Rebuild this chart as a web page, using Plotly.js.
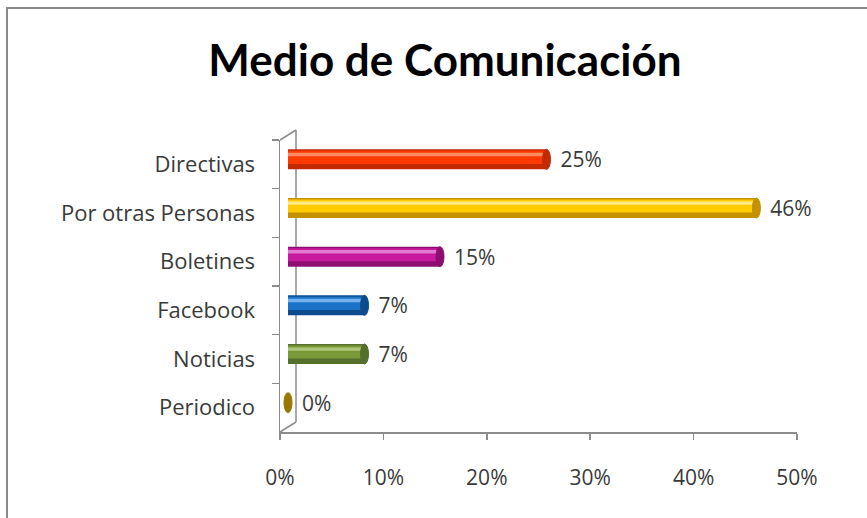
<!DOCTYPE html>
<html>
<head>
<meta charset="utf-8">
<script src="https://cdn.plot.ly/plotly-3.0.1.min.js"></script>
<style>
  html, body { margin: 0; padding: 0; background: #ffffff; overflow: hidden; }
  #chart { position: absolute; left: 0; top: 0; width: 867px; height: 518px; }
  #frame { position: absolute; left: 6px; top: 7px; width: 900px; height: 600px;
           border-left: 2px solid #8a8a8a; border-top: 2px solid #8a8a8a; pointer-events: none; }
</style>
</head>
<body>
<div id="chart"></div>
<div id="frame"></div>
<script>
// ---- data ----
const categories = ["Directivas", "Por otras Personas", "Boletines", "Facebook", "Noticias", "Periodico"];
const values     = [0.250, 0.453, 0.147, 0.074, 0.074, 0.0];
const labels     = ["25%", "46%", "15%", "7%", "7%", "0%"];
const xTicks     = [0, 0.1, 0.2, 0.3, 0.4, 0.5];
const xTickText  = ["0%", "10%", "20%", "30%", "40%", "50%"];
const titleText  = "Medio de Comunicación";

// ---- styles ----
const mainColors  = ["#ff3a00", "#ffcc00", "#c8189e", "#1a73c8", "#7a9a3a", "#c8a000"];
const darkColors  = ["#c42a00", "#c49200", "#8c0e70", "#0c4c8e", "#55702a", "#9a7800"];
const lightColors = ["#ff8a60", "#ffe98a", "#e27ad0", "#74b0ec", "#aec67a", "#e6cc60"];

const FONT = "'Open Sans', Lato, sans-serif";
const TITLE_FONT = "Lato, 'Open Sans', sans-serif";
const TXT = "#3a3a3a";
const pxPerUnit = 1034;           // x pixels per 1.0 (100%)
const dx = 8 / pxPerUnit;         // depth shift of bars in x
const bandPx = 292 / 6;
const dy = 5 / bandPx;            // depth shift of bars in y (category units)

const common = {
  type: "bar", orientation: "h", y: categories, x: values,
  xaxis: "x2", yaxis: "y2", hoverinfo: "skip", showlegend: false
};

const base = Object.assign({}, common, {
  width: 0.41, offset: -0.205,
  marker: { color: darkColors, line: { width: 0 } },
  text: labels, texttemplate: "  %{text}", textposition: "outside", cliponaxis: false,
  constraintext: "none",
  textfont: { family: FONT, size: 21, color: TXT }
});
const mid = Object.assign({}, common, {
  width: 0.27, offset: -0.175,
  marker: { color: mainColors, line: { width: 0 } }
});
const hi = Object.assign({}, common, {
  width: 0.07, offset: -0.135,
  marker: { color: lightColors, line: { width: 0 } }
});

// invisible trace to drive the visible axes
const axisTrace = {
  type: "scatter", mode: "markers", x: [0, 0.5], y: [categories[0], categories[5]],
  xaxis: "x", yaxis: "y", marker: { opacity: 0 }, hoverinfo: "skip", showlegend: false
};

// cylinder end caps built from the data
const capHalfW = 4 / pxPerUnit;
const shapes = values.map((v, i) => ({
  type: "circle", xref: "x2", yref: "y2",
  x0: v - capHalfW, x1: v + capHalfW, y0: i - 0.205, y1: i + 0.205,
  fillcolor: darkColors[i], line: { color: darkColors[i], width: 1 }, layer: "above"
}));

// 3D back wall outline
const wallX = 16 / pxPerUnit;
const wallY = 10 / 292;
const wallLine = { color: "#8c8c8c", width: 1.5 };
shapes.push(
  { type: "line", xref: "x", yref: "paper", x0: wallX, x1: wallX, y0: wallY, y1: 1 + wallY, line: wallLine, layer: "below" },
  { type: "line", xref: "x", yref: "paper", x0: 0, x1: wallX, y0: 1, y1: 1 + wallY, line: wallLine, layer: "below" },
  { type: "line", xref: "x", yref: "paper", x0: 0, x1: wallX, y0: 0, y1: wallY, line: wallLine, layer: "below" }
);

const layout = {
  width: 867, height: 518,
  margin: { l: 280, r: 70, t: 140, b: 86 },
  paper_bgcolor: "#ffffff", plot_bgcolor: "rgba(0,0,0,0)",
  barmode: "overlay",
  title: {
    text: titleText, x: 445 / 867, xanchor: "center", y: 1 - 61 / 518, yanchor: "middle",
    xref: "container", yref: "container",
    font: { family: TITLE_FONT, size: 44, color: "#000000", weight: "bold" }
  },
  xaxis: {
    range: [0, 0.5], tickvals: xTicks, ticktext: xTickText,
    showgrid: false, zeroline: false, showline: true, linecolor: "#8c8c8c", linewidth: 1.5,
    ticks: "outside", ticklen: 6, tickcolor: "#8c8c8c", tickwidth: 1.5,
    ticklabelstandoff: 20,
    tickfont: { family: FONT, size: 21, color: TXT }, fixedrange: true
  },
  yaxis: {
    type: "category", categoryorder: "array", categoryarray: categories,
    range: [5.5, -0.5],
    showgrid: false, zeroline: false, showline: true, linecolor: "#8c8c8c", linewidth: 1.5,
    ticks: "outside", tickson: "boundaries", ticklen: 7, tickcolor: "#8c8c8c", tickwidth: 1.5,
    ticklabelstandoff: 19,
    tickfont: { family: FONT, size: 22, color: TXT }, fixedrange: true
  },
  xaxis2: {
    overlaying: "x", range: [-dx, 0.5 - dx], visible: false, fixedrange: true
  },
  yaxis2: {
    overlaying: "y", type: "category", categoryorder: "array", categoryarray: categories,
    range: [5.5 + dy, -0.5 + dy], visible: false, fixedrange: true
  },
  shapes: shapes
};

Plotly.newPlot("chart", [axisTrace, base, mid, hi], layout, { displayModeBar: false, staticPlot: true });
</script>
</body>
</html>
